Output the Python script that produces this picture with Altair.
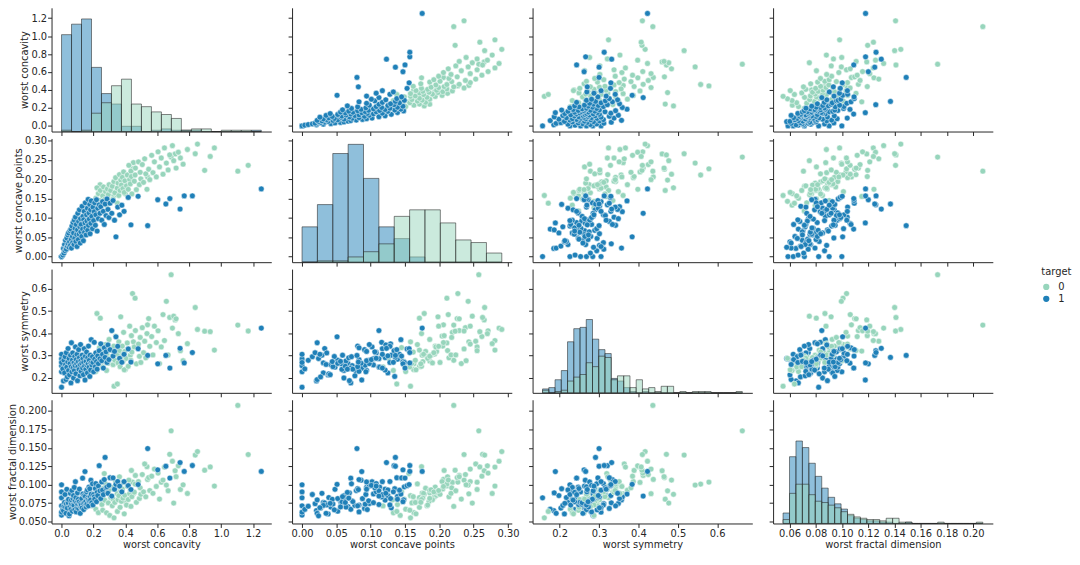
import altair as alt
import numpy as np
import pandas as pd

# ---------------- variables ----------------
var_keys = ["conc", "pts", "sym", "frac"]
var_titles = ["worst concavity", "worst concave points", "worst symmetry", "worst fractal dimension"]

# ---------------- target 1 (blue) ----------------
b_conc = [0.000,0.000,0.000,0.000,0.000,0.000,0.008,0.012,0.015,0.019,
          0.022,0.025,0.028,0.030,0.033,0.036,0.039,0.041,0.044,0.047,
          0.050,0.053,0.056,0.059,0.061,0.062,0.065,0.068,0.070,0.072,
          0.075,0.078,0.080,0.083,0.085,0.087,0.090,0.092,0.095,0.097,
          0.100,0.102,0.105,0.107,0.110,0.112,0.115,0.117,0.119,0.121,
          0.123,0.127,0.129,0.132,0.134,0.137,0.139,0.142,0.144,0.147,
          0.149,0.152,0.154,0.157,0.159,0.162,0.164,0.167,0.169,0.172,
          0.174,0.177,0.179,0.182,0.184,0.186,0.190,0.194,0.197,0.201,
          0.205,0.208,0.212,0.215,0.219,0.223,0.227,0.231,0.236,0.241,
          0.246,0.252,0.257,0.262,0.268,0.273,0.279,0.285,0.291,0.297,
          0.304,0.315,0.323,0.332,0.341,0.352,0.364,0.378,0.392,0.418,
          0.435,0.480,0.540,0.603,0.654,0.679,0.743,0.769,0.820,1.252]
b_pts = [0.000,0.000,0.000,0.000,0.000,0.000,0.004,0.021,0.009,0.031,
         0.015,0.042,0.022,0.019,0.048,0.027,0.056,0.033,0.061,0.024,
         0.038,0.067,0.029,0.071,0.045,0.022,0.079,0.052,0.036,0.088,
         0.061,0.031,0.094,0.047,0.073,0.102,0.039,0.083,0.057,0.026,
         0.069,0.112,0.044,0.091,0.058,0.121,0.077,0.035,0.098,0.064,
         0.083,0.052,0.130,0.071,0.104,0.041,0.095,0.117,0.063,0.087,
         0.139,0.074,0.056,0.108,0.092,0.125,0.068,0.148,0.081,0.113,
         0.097,0.135,0.059,0.121,0.086,0.144,0.104,0.072,0.128,0.093,
         0.116,0.139,0.081,0.108,0.147,0.066,0.125,0.098,0.134,0.112,
         0.129,0.094,0.142,0.117,0.083,0.136,0.106,0.149,0.122,0.101,
         0.138,0.112,0.145,0.094,0.051,0.128,0.108,0.133,0.117,0.153,
         0.082,0.156,0.080,0.147,0.136,0.150,0.123,0.157,0.157,0.175]
b_sym = [0.1565,0.226,0.253,0.284,0.305,0.268,0.239,0.185,0.278,0.221,
         0.294,0.258,0.191,0.312,0.247,0.203,0.270,0.331,0.232,0.286,
         0.212,0.263,0.301,0.176,0.249,0.357,0.226,0.279,0.311,0.243,
         0.198,0.266,0.232,0.295,0.254,0.338,0.217,0.281,0.262,0.305,
         0.186,0.248,0.272,0.326,0.237,0.290,0.208,0.259,0.349,0.275,
         0.228,0.264,0.301,0.243,0.285,0.213,0.268,0.330,0.251,0.189,
         0.296,0.238,0.273,0.315,0.256,0.221,0.289,0.262,0.342,0.247,
         0.278,0.205,0.301,0.234,0.265,0.371,0.257,0.294,0.268,0.226,
         0.359,0.283,0.249,0.311,0.272,0.238,0.298,0.263,0.321,0.285,
         0.352,0.276,0.305,0.243,0.334,0.291,0.316,0.268,0.347,0.281,
         0.326,0.412,0.297,0.318,0.384,0.341,0.287,0.269,0.305,0.329,
         0.270,0.330,0.300,0.262,0.300,0.243,0.332,0.266,0.313,0.423]
b_frac = [0.0822,0.0999,0.0902,0.0588,0.0628,0.0713,0.0665,0.0649,0.0708,0.0761,
          0.0867,0.0697,0.0612,0.0742,0.0938,0.0683,0.0776,0.0754,0.0801,0.0578,
          0.0603,0.0702,0.0883,0.0667,0.0738,0.0794,0.0921,0.0641,0.0725,0.0811,
          0.0852,0.0719,0.0963,0.0659,0.0781,0.1040,0.0826,0.0631,0.0756,0.0688,
          0.0889,0.0731,0.0802,0.0678,0.0768,0.0941,0.0719,0.0612,0.0745,0.0697,
          0.0724,0.0812,0.0686,0.1089,0.0874,0.0747,0.0663,0.0853,0.0759,0.1178,
          0.0842,0.0771,0.0698,0.0904,0.0736,0.0929,0.0818,0.0795,0.0713,0.0968,
          0.0782,0.0945,0.0838,0.0791,0.1061,0.0873,0.0756,0.1012,0.0725,0.0867,
          0.0834,0.0803,0.0948,0.1015,0.0769,0.0896,0.0853,0.0982,0.1258,0.0917,
          0.0812,0.1037,0.0926,0.0865,0.1069,0.1370,0.0958,0.0971,0.0884,0.0991,
          0.1094,0.0846,0.1092,0.0939,0.1005,0.1043,0.0981,0.0903,0.1041,0.0987,
          0.0934,0.1002,0.1490,0.1201,0.1250,0.1090,0.1300,0.1180,0.1260,0.1180]

# ---------------- target 0 (mint) ----------------
g_conc = [0.7119,0.2416,0.4504,0.6869,0.4000,0.5355,0.3784,0.2678,0.5390,1.1050,
          0.196,0.208,0.215,0.224,0.231,0.238,0.222,0.243,0.253,0.258,
          0.263,0.271,0.276,0.282,0.287,0.293,0.298,0.302,0.308,0.329,
          0.318,0.323,0.328,0.334,0.339,0.350,0.349,0.354,0.359,0.363,
          0.367,0.371,0.375,0.381,0.385,0.389,0.393,0.397,0.445,0.407,
          0.412,0.418,0.422,0.427,0.431,0.435,0.438,0.441,0.456,0.463,
          0.469,0.461,0.482,0.488,0.493,0.497,0.506,0.514,0.521,0.528,
          0.546,0.553,0.565,0.573,0.582,0.594,0.605,0.614,0.625,0.636,
          0.645,0.657,0.668,0.678,0.695,0.703,0.718,0.732,0.745,0.762,
          0.789,0.838,0.852,0.897,0.932,0.958,1.170]
g_pts = [0.2654,0.1860,0.2430,0.2575,0.1625,0.1741,0.1932,0.1556,0.2060,0.2210,
         0.118,0.132,0.151,0.126,0.163,0.145,0.178,0.171,0.139,0.157,
         0.180,0.148,0.168,0.133,0.175,0.160,0.186,0.143,0.171,0.158,
         0.182,0.149,0.194,0.165,0.204,0.138,0.177,0.190,0.158,0.212,
         0.171,0.198,0.185,0.205,0.176,0.219,0.166,0.196,0.227,0.183,
         0.211,0.174,0.236,0.199,0.188,0.221,0.207,0.162,0.195,0.229,
         0.173,0.211,0.245,0.186,0.218,0.201,0.238,0.192,0.253,0.214,
         0.226,0.199,0.262,0.217,0.245,0.206,0.271,0.232,0.255,0.213,
         0.281,0.242,0.224,0.263,0.287,0.248,0.229,0.270,0.255,0.239,
         0.277,0.266,0.291,0.223,0.259,0.281,0.236]
g_sym = [0.4601,0.2750,0.3613,0.6638,0.2364,0.3985,0.3063,0.3196,0.4378,0.4366,
         0.248,0.301,0.227,0.287,0.262,0.335,0.489,0.468,0.296,0.248,
         0.318,0.274,0.349,0.232,0.301,0.265,0.372,0.287,0.324,0.161,
         0.296,0.258,0.342,0.278,0.387,0.171,0.305,0.266,0.361,0.322,
         0.249,0.474,0.290,0.342,0.272,0.404,0.235,0.318,0.579,0.287,
         0.356,0.251,0.329,0.432,0.301,0.278,0.389,0.315,0.338,0.412,
         0.262,0.558,0.351,0.296,0.381,0.268,0.425,0.312,0.364,0.289,
         0.466,0.341,0.385,0.302,0.432,0.358,0.411,0.263,0.338,0.484,
         0.367,0.544,0.302,0.471,0.423,0.477,0.465,0.398,0.321,0.276,
         0.353,0.516,0.417,0.409,0.407,0.324,0.410]
g_frac = [0.1189,0.0890,0.0876,0.1730,0.0768,0.1244,0.0837,0.1151,0.1072,0.2075,
          0.0712,0.0795,0.0668,0.0845,0.0621,0.0903,0.0870,0.0804,0.0731,0.0654,
          0.0952,0.0789,0.1011,0.0619,0.0887,0.0753,0.0925,0.0584,0.0826,0.05504,
          0.0714,0.0805,0.0968,0.0759,0.1043,0.0637,0.0882,0.0796,0.0851,0.1107,
          0.0693,0.0917,0.0775,0.0942,0.0818,0.1031,0.0605,0.0856,0.1035,0.0724,
          0.0983,0.0799,0.1062,0.0878,0.0931,0.0706,0.1193,0.0837,0.0899,0.1125,
          0.0761,0.1008,0.1042,0.0814,0.0957,0.0869,0.1138,0.0902,0.1281,0.0836,
          0.1097,0.0921,0.1116,0.0883,0.1212,0.0976,0.1157,0.0805,0.1034,0.1063,
          0.1239,0.0995,0.0918,0.1412,0.1318,0.0751,0.1108,0.1256,0.0935,0.0998,
          0.0881,0.1402,0.1449,0.1196,0.1240,0.0982,0.1409]

# ---------------- diagonal histogram counts ----------------
hist_counts = {
    "conc": {
        "0": [1,0,1,14,22,35,40,21,19,15,13,10,1,2,2,0,1,1,1,0],
        "1": [74,82,86,49,29,21,4,4,0,1,2,1,1,1,0,0,0,0,0,1],
    },
    "pts": {
        "0": [0,1,1,4,8,14,35,40,40,30,17,15,7],
        "1": [27,44,83,90,64,27,18,4,0,0,0,0,0],
    },
    "sym": {
        "0": [2,0,1,2,9,12,14,23,20,28,27,10,13,13,4,10,3,4,1,5,5,0,1,0,1,1,1,0,0,0,0,1],
        "1": [3,4,10,17,39,49,50,56,41,33,30,11,9,4,1,0,1,0,0,0,0,0,0,0,0,0,0,0,0,0,0,0],
    },
    "frac": {
        "0": [3,23,30,30,22,17,16,14,12,9,7,5,4,3,3,2,4,4,1,1,0,0,0,0,1,0,0,0,0,0,1],
        "1": [8,51,63,58,46,36,27,20,15,11,6,4,3,2,2,1,1,0,0,1,0,0,0,0,0,0,0,0,0,0,0],
    },
}

# ---------------- axis ticks ----------------
x_ticks = {"conc": [0.0,0.2,0.4,0.6,0.8,1.0,1.2], "pts": [0.0,0.05,0.10,0.15,0.20,0.25,0.30],
           "sym": [0.2,0.3,0.4,0.5,0.6], "frac": [0.06,0.08,0.10,0.12,0.14,0.16,0.18,0.20]}
y_ticks = {"conc": [0.0,0.2,0.4,0.6,0.8,1.0,1.2], "pts": [0.0,0.05,0.10,0.15,0.20,0.25,0.30],
           "sym": [0.2,0.3,0.4,0.5,0.6], "frac": [0.050,0.075,0.100,0.125,0.150,0.175,0.200]}
x_fmt = {"conc": ".1f", "pts": ".2f", "sym": ".1f", "frac": ".2f"}
y_fmt = {"conc": ".1f", "pts": ".2f", "sym": ".1f", "frac": ".3f"}

# ---------------- data frames ----------------
blue = pd.DataFrame({"conc": b_conc, "pts": b_pts, "sym": b_sym, "frac": b_frac})
blue["target"] = "1"
blue["ord"] = np.arange(len(blue)) * 2
mint = pd.DataFrame({"conc": g_conc, "pts": g_pts, "sym": g_sym, "frac": g_frac})
mint["target"] = "0"
mint["ord"] = np.arange(len(mint)) * 2 + 1
pts_df = pd.concat([blue, mint]).sort_values("ord").reset_index(drop=True)

both = pd.concat([blue, mint])
domains = {}
ranges = {}
for k in var_keys:
    lo, hi = float(both[k].min()), float(both[k].max())
    ranges[k] = (lo, hi)
    m = 0.05 * (hi - lo)
    domains[k] = [lo - m, hi + m]


def hist_frame(k, t):
    lo, hi = ranges[k]
    c = hist_counts[k][t]
    edges = np.linspace(lo, hi, len(c) + 1)
    return pd.DataFrame({"start": edges[:-1], "end": edges[1:], "count": c})


hist_max = max(max(v["0"] + v["1"]) for v in hist_counts.values()) * 1.05

MINT = "#97d5bc"
BLUE = "#1f80b8"
color_scale = alt.Scale(domain=["0", "1"], range=[MINT, BLUE])
legend = alt.Legend(title="target", orient="none", legendX=1000, legendY=262,
                    symbolType="circle", symbolSize=40, symbolStrokeWidth=0, labelOffset=7,
                    titleFontWeight="normal", titleFontSize=10, labelFontSize=10, padding=0)

W, H = 222, 125


def x_axis(j, show):
    k = var_keys[j]
    return alt.Axis(values=x_ticks[k], format=x_fmt[k], labels=show,
                    title=var_titles[j] if show else None, labelFlush=False)


def y_axis(i, show):
    k = var_keys[i]
    return alt.Axis(values=y_ticks[k], format=y_fmt[k], labels=show,
                    title=var_titles[i] if show else None, labelFlush=False)


def panel(i, j):
    xk, yk = var_keys[j], var_keys[i]
    xs = alt.Scale(domain=domains[xk], nice=False, zero=False)
    ys = alt.Scale(domain=domains[yk], nice=False, zero=False)
    show_x = i == 3
    show_y = j == 0
    if i != j:
        return alt.Chart(pts_df).mark_circle(size=34, opacity=1, stroke="white", strokeWidth=0.5).encode(
            x=alt.X(f"{xk}:Q", scale=xs, axis=x_axis(j, show_x)),
            y=alt.Y(f"{yk}:Q", scale=ys, axis=y_axis(i, show_y)),
            color=alt.Color("target:N", scale=color_scale, legend=legend),
            order=alt.Order("ord:Q"),
        ).properties(width=W, height=H)
    axis_layer = alt.Chart(pts_df).mark_point(opacity=0).encode(
        x=alt.X(f"{xk}:Q", scale=xs, axis=x_axis(j, show_x)),
        y=alt.Y(f"{yk}:Q", scale=ys, axis=y_axis(i, show_y)),
    )
    layers = [axis_layer]
    for t, col in [("1", BLUE), ("0", MINT)]:
        layers.append(
            alt.Chart(hist_frame(xk, t)).mark_bar(
                fill=col, fillOpacity=0.5, stroke="#262626", strokeWidth=0.8, strokeOpacity=0.7
            ).encode(
                x=alt.X("start:Q", scale=xs, axis=x_axis(j, show_x)),
                x2="end:Q",
                y=alt.Y("count:Q", scale=alt.Scale(domain=[0, hist_max], nice=False, zero=True), axis=None),
                y2=alt.datum(0),
            )
        )
    return alt.layer(*layers).resolve_scale(y="independent").properties(width=W, height=H)


cells = [panel(i, j) for i in range(4) for j in range(4)]
chart = alt.concat(*cells, columns=4, spacing={"row": 7, "column": 21}, bounds="flush").properties(
    padding={"left": -1, "top": -3, "right": 0, "bottom": 0}
).configure(font="DejaVu Sans").configure_view(stroke=None).configure_axis(
    grid=False, labelFont="DejaVu Sans", titleFont="DejaVu Sans", labelFontSize=10, titleFontSize=10,
    titleFontWeight="normal", labelColor="#262626", titleColor="#262626", domainColor="#262626",
    tickColor="#262626", tickSize=4
).configure_axisX(labelPadding=1, titlePadding=1).configure_axisY(labelPadding=1, titlePadding=1).configure_legend(
    labelFont="DejaVu Sans", titleFont="DejaVu Sans", labelColor="#262626", titleColor="#262626")

chart.save("out.html", embed_options={"renderer": "svg", "actions": False})
